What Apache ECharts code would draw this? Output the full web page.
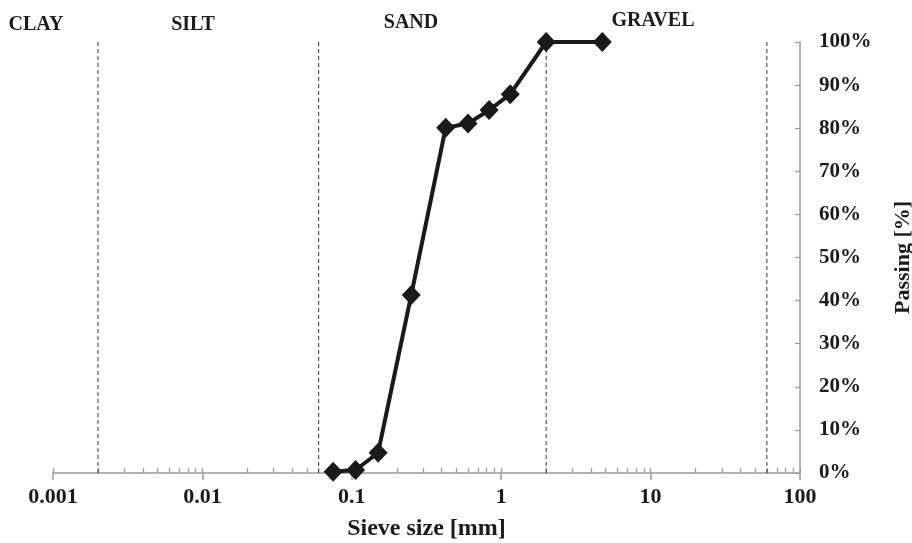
<!DOCTYPE html>
<html>
<head>
<meta charset="utf-8">
<script src="https://cdn.jsdelivr.net/npm/echarts@6/dist/echarts.min.js"></script>
<style>
  html, body { margin: 0; padding: 0; background: #fff; }
  #chart { width: 912px; height: 543px; }
</style>
</head>
<body>
<div id="chart"></div>
<script>
// sieve analysis
const sieveSizes = [0.075, 0.106, 0.15, 0.25, 0.425, 0.6, 0.83, 1.15, 2, 4.75];
const passing = [0.3, 0.7, 4.7, 41.3, 80.1, 81.1, 84.2, 87.9, 100, 100];
const zoneLimits = [0.002, 0.06, 2, 60];
const zoneNames = ["CLAY", "SILT", "SAND", "GRAVEL"];
const minorTicks = [];
[0.001, 0.01, 0.1, 1, 10].forEach((d) => {
  for (let k = 1; k <= 9; k++) minorTicks.push(+(d * k).toPrecision(3));
});
minorTicks.push(100);

const font = "Liberation Serif";
const textColor = "#1e1a1b";
const axisGrey = "#9a9a9a";

const myChart = echarts.init(document.getElementById("chart"));
const zonePos = [
  [36, 25],
  [193, 25],
  [411, 23],
  [653, 21],
];

// dashed zone limits, one small series each
const limitSeries = zoneLimits.map((x) => ({
  type: "line",
  xAxisIndex: 0,
  data: [
    [x, 0],
    [x, 100],
  ],
  symbol: "none",
  silent: true,
  z: 1,
  lineStyle: { color: "#333", width: 1, type: [4, 3] },
}));

const option = {
  backgroundColor: "#fff",
  animation: false,
  grid: { left: 53, right: 112, top: 42, bottom: 70, outerBoundsMode: "none", containLabel: false },
  xAxis: [
    {
      type: "log",
      logBase: 10,
      min: 0.001,
      max: 100,
      position: "bottom",
      name: "Sieve size [mm]",
      nameLocation: "middle",
      nameGap: 44,
      nameTextStyle: { fontFamily: font, fontWeight: "bold", fontSize: 24, color: textColor },
      axisLine: { lineStyle: { color: axisGrey, width: 1.5 } },
      axisTick: { show: true, length: 7, lineStyle: { color: axisGrey, width: 1.5 } },
      axisLabel: {
        margin: 13,
        fontFamily: font,
        fontWeight: "bold",
        fontSize: 22,
        color: textColor,
        formatter: (v) => String(parseFloat(v.toPrecision(3))),
      },
      splitLine: { show: false },
    },
    {
      type: "log",
      logBase: 10,
      min: 0.001,
      max: 100,
      position: "bottom",
      axisLine: { show: false },
      axisTick: {
        show: true,
        inside: true,
        length: 5,
        customValues: minorTicks,
        lineStyle: { color: axisGrey, width: 1.2 },
      },
      axisLabel: { show: false },
      splitLine: { show: false },
    },
  ],
  yAxis: {
    type: "value",
    position: "right",
    min: 0,
    max: 100,
    interval: 10,
    name: "Passing [%]",
    nameLocation: "middle",
    nameRotate: 90,
    nameGap: 92,
    nameTextStyle: { fontFamily: font, fontWeight: "bold", fontSize: 22, color: textColor },
    axisLine: { show: true, lineStyle: { color: axisGrey, width: 1.5 } },
    axisTick: { show: true, inside: true, length: 5, lineStyle: { color: axisGrey, width: 1.2 } },
    axisLabel: {
      margin: 19,
      fontFamily: font,
      fontWeight: "bold",
      fontSize: 21,
      color: textColor,
      formatter: "{value}%",
    },
    splitLine: { show: false },
  },
  graphic: zoneNames.map((name, i) => ({
    type: "text",
    x: zonePos[i][0],
    y: zonePos[i][1],
    style: {
      text: name,
      font: "bold 20px '" + font + "'",
      fill: textColor,
      align: "center",
      verticalAlign: "middle",
    },
  })),
  series: limitSeries.concat([
    {
      type: "line",
      xAxisIndex: 0,
      z: 3,
      data: sieveSizes.map((s, i) => [s, passing[i]]),
      symbol: "diamond",
      symbolSize: [19, 20],
      lineStyle: { color: "#1a1a1a", width: 4 },
      itemStyle: { color: "#1a1a1a" },
    },
  ]),
};

myChart.setOption(option);
</script>
</body>
</html>
